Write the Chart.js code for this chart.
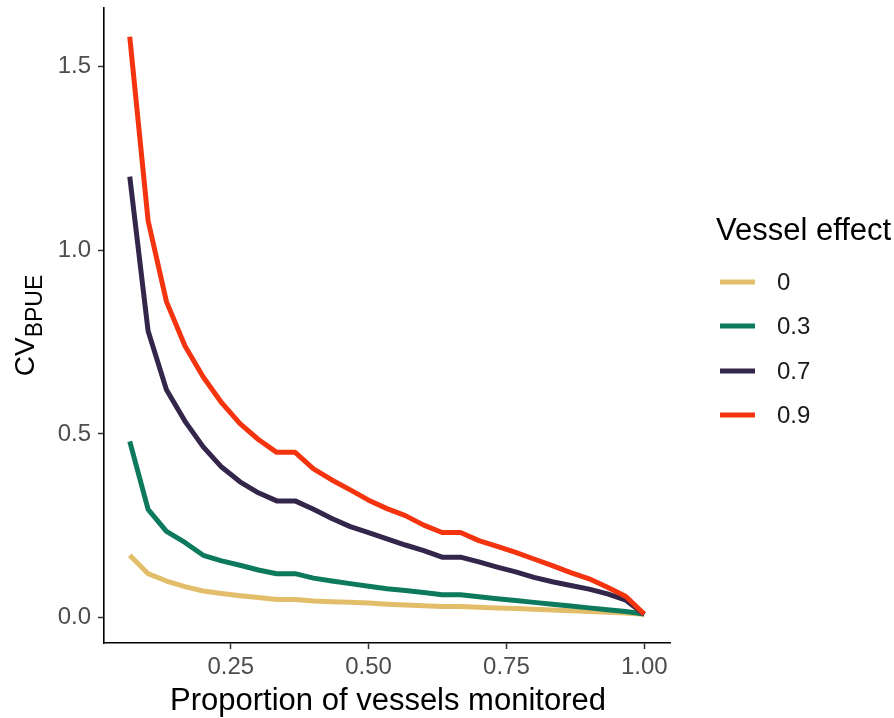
<!DOCTYPE html>
<html>
<head>
<meta charset="utf-8">
<script src="https://cdn.jsdelivr.net/npm/chart.js@4"></script>
<style>
  html, body { margin: 0; padding: 0; background: #ffffff; }
  #wrap { position: relative; width: 894px; height: 718px; }
</style>
</head>
<body>
<div id="wrap"><canvas id="c" width="894" height="718"></canvas></div>
<script>
// ---- data ----
const proportions = [0.0667,0.1,0.1333,0.1667,0.2,0.2333,0.2667,0.3,0.3333,0.3667,0.4,0.4333,0.4667,0.5,0.5333,0.5667,0.6,0.6333,0.6667,0.7,0.7333,0.7667,0.8,0.8333,0.8667,0.9,0.9333,0.9667,1.0];
const seriesNames = ["0", "0.3", "0.7", "0.9"];
const cv_0  = [0.17,0.12,0.10,0.085,0.073,0.066,0.060,0.055,0.050,0.050,0.046,0.044,0.042,0.040,0.037,0.035,0.033,0.031,0.031,0.029,0.027,0.025,0.023,0.021,0.019,0.017,0.015,0.013,0.010];
const cv_03 = [0.48,0.295,0.235,0.205,0.17,0.155,0.143,0.13,0.12,0.12,0.108,0.10,0.093,0.086,0.079,0.074,0.069,0.063,0.063,0.057,0.052,0.047,0.042,0.037,0.032,0.027,0.022,0.017,0.010];
const cv_07 = [1.20,0.78,0.62,0.535,0.465,0.41,0.37,0.34,0.318,0.318,0.295,0.27,0.248,0.232,0.215,0.198,0.183,0.165,0.165,0.152,0.138,0.125,0.11,0.098,0.088,0.078,0.065,0.048,0.010];
const cv_09 = [1.58,1.08,0.86,0.74,0.655,0.585,0.528,0.485,0.45,0.45,0.405,0.375,0.348,0.32,0.297,0.278,0.252,0.232,0.232,0.21,0.194,0.178,0.16,0.142,0.123,0.106,0.083,0.058,0.010];
const xTicks = [0.25, 0.50, 0.75, 1.00];
const yTicks = [0.0, 0.5, 1.0, 1.5];
const colors = ["#E2BE6B", "#0D7A5E", "#33264A", "#F3340F"];

// ---- layout ----
const FONT = '"Liberation Sans", Arial, Helvetica, sans-serif';
const AREA = { left: 104, right: 670, top: 8, bottom: 643 };
const W = 894, H = 718;

const allSeries = [cv_0, cv_03, cv_07, cv_09];
const datasets = allSeries.map((vals, k) => ({
  label: seriesNames[k],
  data: vals.map((v, i) => ({ x: proportions[i], y: v })),
  borderColor: colors[k],
  backgroundColor: colors[k],
  borderWidth: 5,
  pointRadius: 0,
  tension: 0,
  fill: false,
  borderJoinStyle: 'round',
  order: 4 - k
}));

const annotations = {
  id: 'annotations',
  afterDraw(chart) {
    const ctx = chart.ctx;
    ctx.save();
    // x title
    ctx.fillStyle = '#000';
    ctx.font = '31px ' + FONT;
    ctx.textAlign = 'center';
    ctx.textBaseline = 'alphabetic';
    ctx.fillText('Proportion of vessels monitored', 388, 710);
    // y title: CV with subscript BPUE
    ctx.save();
    ctx.translate(34, (AREA.top + AREA.bottom) / 2);
    ctx.rotate(-Math.PI / 2);
    ctx.font = '28px ' + FONT;
    const w1 = ctx.measureText('CV').width;
    ctx.font = '23px ' + FONT;
    const w2 = ctx.measureText('BPUE').width;
    const start = -(w1 + w2) / 2;
    ctx.textAlign = 'left';
    ctx.font = '28px ' + FONT;
    ctx.fillText('CV', start, 0);
    ctx.font = '23px ' + FONT;
    ctx.fillText('BPUE', start + w1, 8);
    ctx.restore();
    // legend
    ctx.textAlign = 'left';
    ctx.font = '31px ' + FONT;
    ctx.fillStyle = '#000';
    ctx.fillText('Vessel effect', 716, 240);
    const ys = [282, 326, 371, 415];
    chart.data.datasets.forEach((ds, k) => {
      ctx.strokeStyle = ds.borderColor;
      ctx.lineWidth = 5;
      ctx.beginPath();
      ctx.moveTo(720, ys[k]);
      ctx.lineTo(755, ys[k]);
      ctx.stroke();
      ctx.fillStyle = '#1a1a1a';
      ctx.font = '24px ' + FONT;
      ctx.textBaseline = 'middle';
      ctx.fillText(ds.label, 777, ys[k] + 1);
      ctx.textBaseline = 'alphabetic';
    });
    ctx.restore();
  }
};

new Chart(document.getElementById('c'), {
  type: 'line',
  data: { datasets },
  options: {
    responsive: false,
    animation: false,
    devicePixelRatio: 1,
    layout: { padding: { left: 0, right: W - AREA.right, top: AREA.top, bottom: 0 } },
    plugins: { legend: { display: false }, tooltip: { enabled: false } },
    scales: {
      x: {
        type: 'linear',
        min: 0.02, max: 1.0467,
        afterBuildTicks(scale) { scale.ticks = xTicks.map(v => ({ value: v })); },
        afterFit(scale) { scale.height = H - AREA.bottom; scale.paddingLeft = 0; scale.paddingRight = 0; },
        ticks: {
          callback: v => Number(v).toFixed(2),
          color: '#4D4D4D',
          font: { family: FONT, size: 24 },
          padding: 4,
          maxRotation: 0,
          autoSkip: false
        },
        grid: { drawOnChartArea: false, drawTicks: true, tickLength: 6, tickColor: '#333333', tickWidth: 1.5 },
        border: { display: true, color: '#000000', width: 1.6 }
      },
      y: {
        type: 'linear',
        min: -0.0685, max: 1.6585,
        afterBuildTicks(scale) { scale.ticks = yTicks.map(v => ({ value: v })); },
        afterFit(scale) { scale.width = AREA.left; scale.paddingTop = 0; scale.paddingBottom = 0; },
        ticks: {
          callback: v => Number(v).toFixed(1),
          color: '#4D4D4D',
          font: { family: FONT, size: 24 },
          padding: 7,
          autoSkip: false
        },
        grid: { drawOnChartArea: false, drawTicks: true, tickLength: 6, tickColor: '#333333', tickWidth: 1.5 },
        border: { display: true, color: '#000000', width: 1.6 }
      }
    }
  },
  plugins: [annotations]
});
</script>
</body>
</html>
